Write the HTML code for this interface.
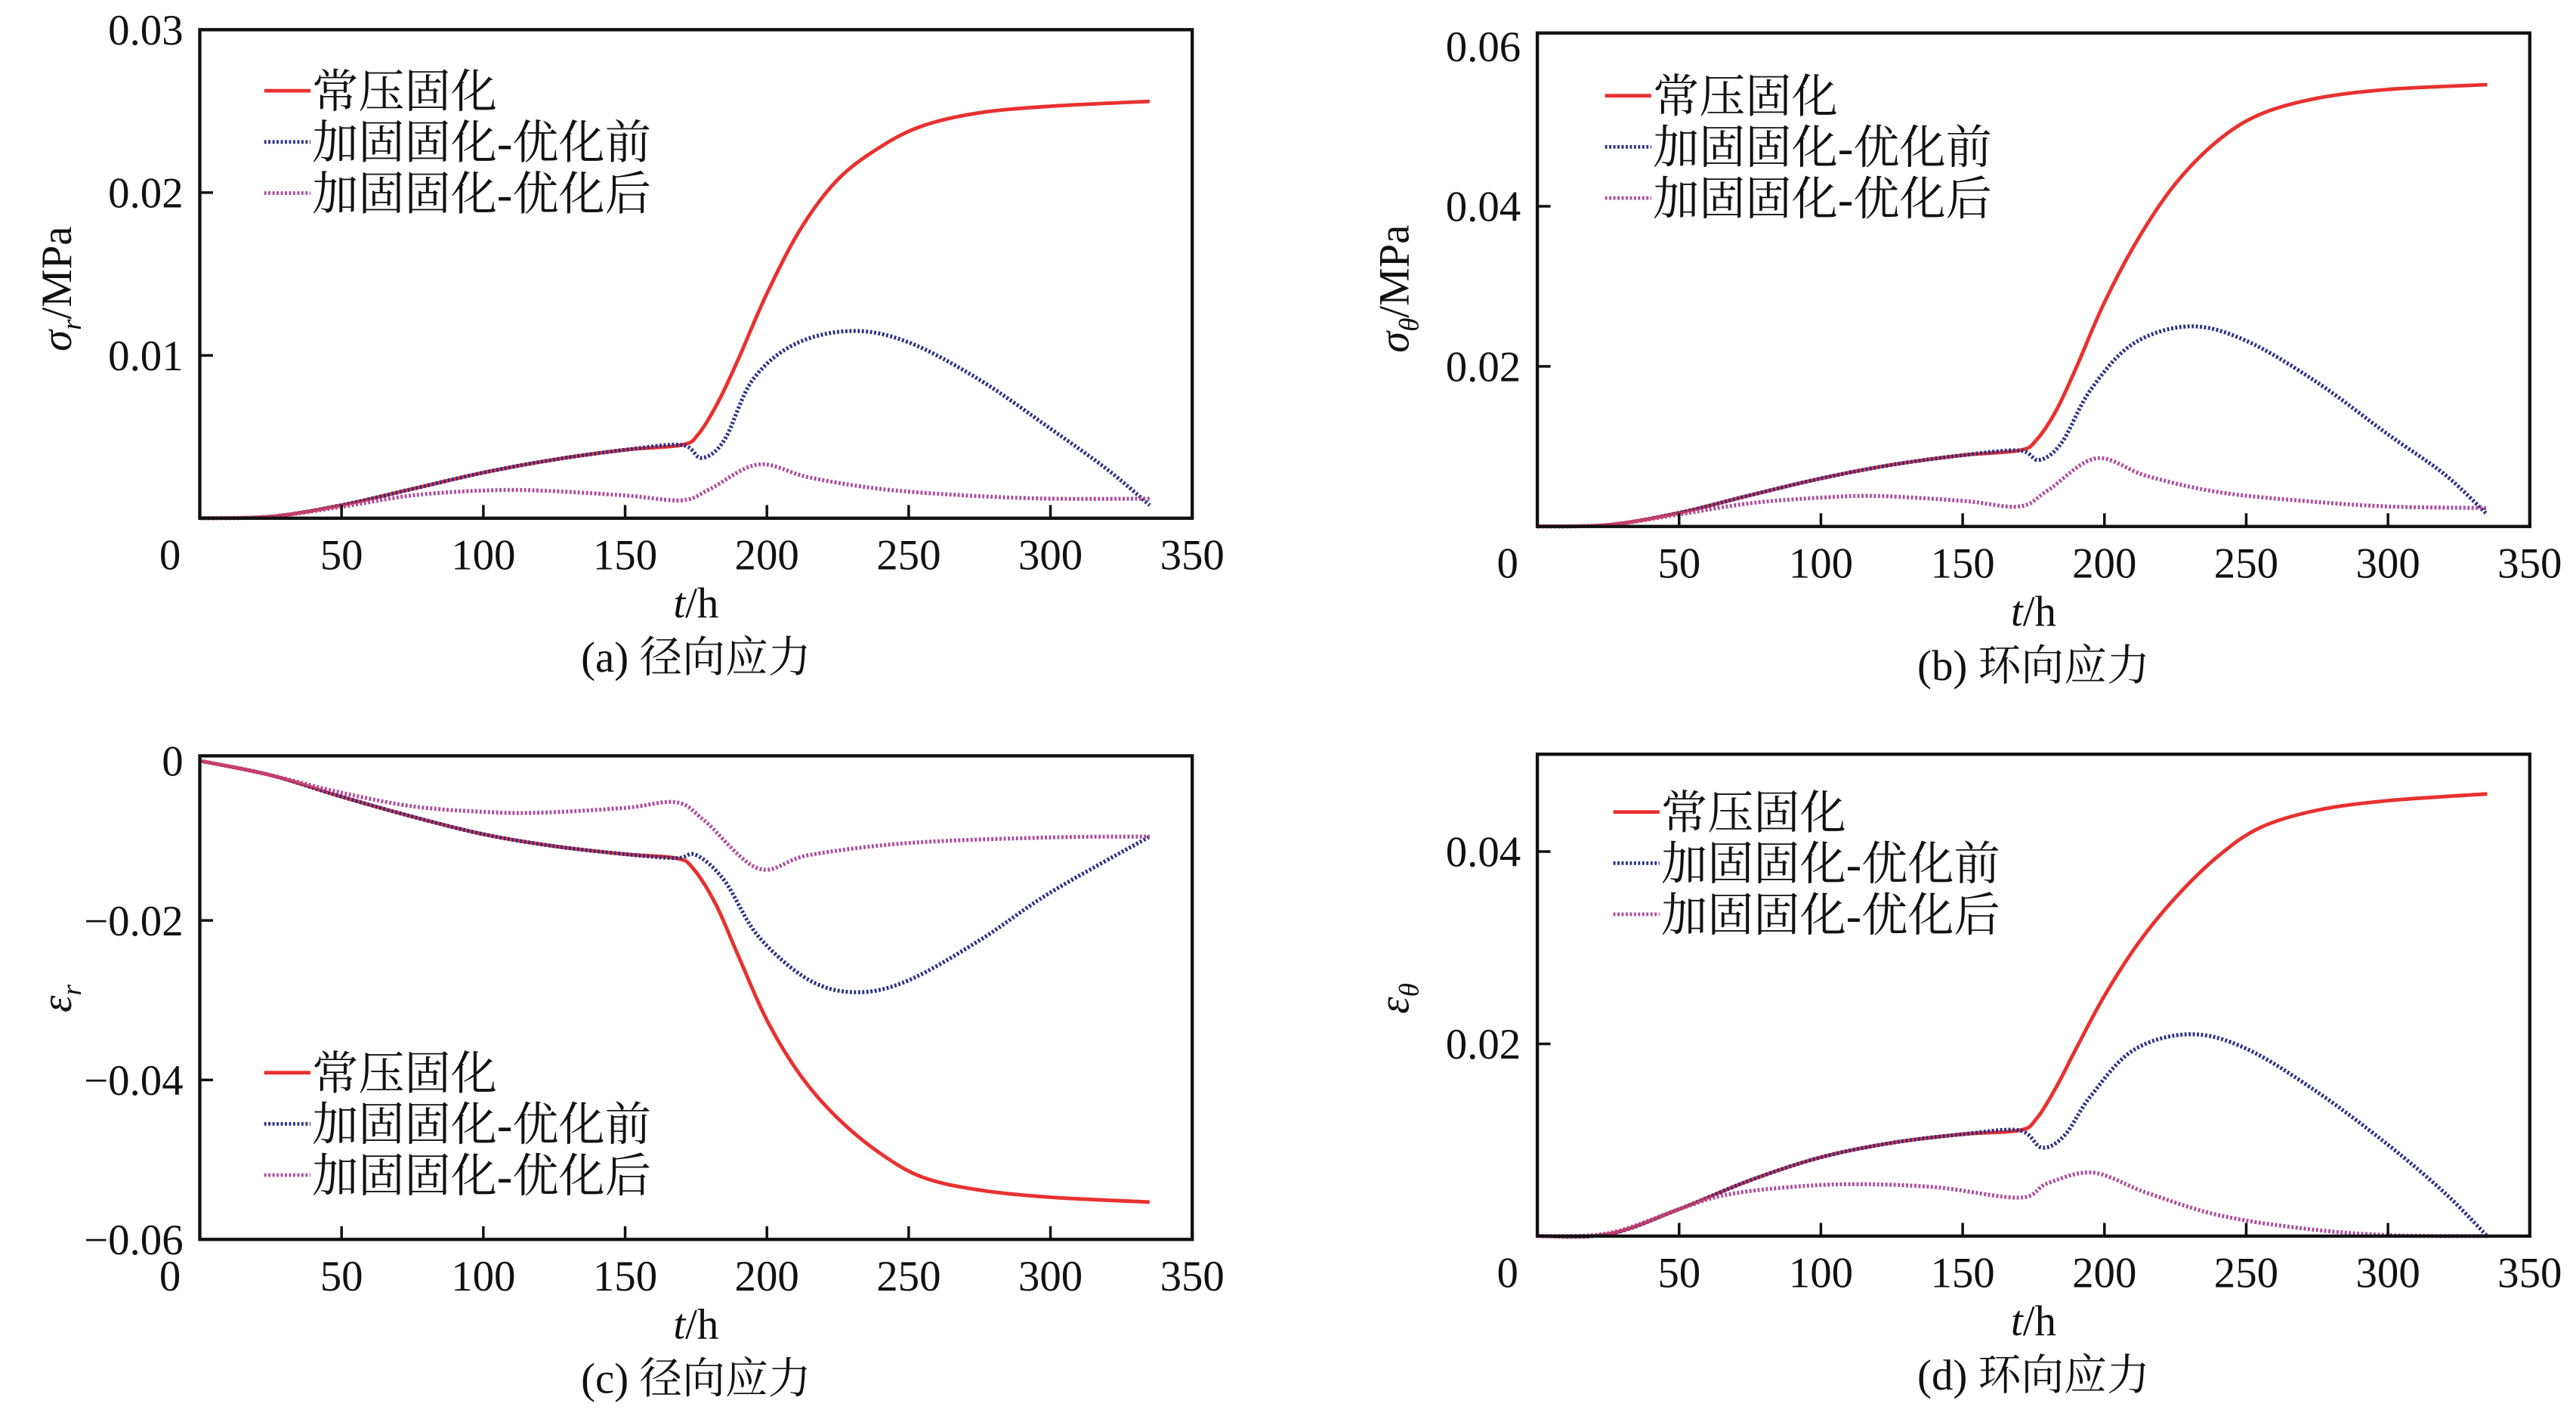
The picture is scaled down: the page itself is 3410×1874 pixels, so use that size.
<!DOCTYPE html>
<html><head><meta charset="utf-8"><style>
html,body{margin:0;padding:0;background:#fff;}
svg{display:block;}
text{font-family:"Liberation Serif","Noto Serif CJK SC",serif;fill:#111;}
</style></head><body>
<svg id="s" width="3410" height="1874" viewBox="0 0 1560 858" preserveAspectRatio="none" xmlns="http://www.w3.org/2000/svg"></svg>
<script>
const S=document.getElementById('s');const NS='http://www.w3.org/2000/svg';
function el(n,a,t){const e=document.createElementNS(NS,n);for(const k in a)e.setAttribute(k,a[k]);if(t!==undefined)e.textContent=t;S.appendChild(e);return e;}
function path(pts){let d='M'+pts[0][0]+','+pts[0][1];for(let i=0;i<pts.length-1;i++){const p0=pts[Math.max(0,i-1)],p1=pts[i],p2=pts[i+1],p3=pts[Math.min(pts.length-1,i+2)];
const c1=[p1[0]+(p2[0]-p0[0])/6,p1[1]+(p2[1]-p0[1])/6],c2=[p2[0]-(p3[0]-p1[0])/6,p2[1]-(p3[1]-p1[1])/6];
d+=' C'+c1[0].toFixed(2)+','+c1[1].toFixed(2)+' '+c2[0].toFixed(2)+','+c2[1].toFixed(2)+' '+p2[0].toFixed(2)+','+p2[1].toFixed(2);}return d;}
const RED='#e8312f',BLUE='#2b2f8a',MAG='#b04a9a';
function panel(o){
 const X=t=>o.x0+t*(o.x1-o.x0)/350, Y=v=>o.yb+(v-o.v0)*o.k;
 [[o.red,RED,'none',2.2],[o.blue,BLUE,'1.3,1.2',2.4],[o.mag,MAG,'1.3,1.2',2.4]].forEach(([pts,c,da,w])=>{
  el('path',{d:path(pts.map(p=>[X(p[0]),Y(p[1])])),fill:'none',stroke:c,'stroke-width':w,'stroke-dasharray':da});});
 el('rect',{x:o.x0,y:o.yt,width:o.x1-o.x0,height:o.ybot-o.yt,fill:'none',stroke:'#111','stroke-width':2});
 for(let t=50;t<=300;t+=50){el('line',{x1:X(t),x2:X(t),y1:o.ybot,y2:o.ybot-8,stroke:'#111','stroke-width':1.6});}
 o.xl.forEach((s,i)=>el('text',{x:(i==0?X(0)-18:X(i*50)),y:o.ybot+31,'font-size':26,'text-anchor':'middle'},s));
 o.yt2.forEach(([v,s,tk])=>{const y=Y(v);if(tk)el('line',{x1:o.x0,x2:o.x0+8,y1:y,y2:y,stroke:'#111','stroke-width':1.6});
  el('text',{x:o.x0-10,y:y+9,'font-size':26,'text-anchor':'end'},s);});
 const th=el('text',{x:(o.x0+o.x1)/2,y:o.ybot+60,'font-size':26,'text-anchor':'middle'});
 th.innerHTML='<tspan font-style="italic">t</tspan>/h';
 el('text',{x:(o.x0+o.x1)/2,y:o.ybot+93,'font-size':26,'text-anchor':'middle'},o.cap);
 const yl=el('text',{x:0,y:0,'font-size':26,'text-anchor':'middle',transform:'translate('+(o.x0-78)+','+o.ylc+') rotate(-90)'});
 yl.innerHTML=o.yl;
 const L=o.leg;['常压固化','加固固化-优化前','加固固化-优化后'].forEach((s,i)=>{const y=L[1]+i*31;const c=[RED,BLUE,MAG][i];
  el('line',{x1:L[0],x2:L[0]+28,y1:y,y2:y,stroke:c,'stroke-width':2.2,'stroke-dasharray':i?'1.3,1.2':'none'});
  el('text',{x:L[0]+29,y:y+10,'font-size':28},s);});
}
const xl=['0','50','100','150','200','250','300','350'];
panel({x0:121,x1:722,yt:18,ybot:314,yb:314,v0:0,k:-296/0.03,xl,cap:'(a) 径向应力',ylc:175,
 yl:'<tspan font-style="italic">σ</tspan><tspan font-style="italic" font-size="17" dy="6">r</tspan><tspan dy="-6">/MPa</tspan>',
 leg:[160,55],yt2:[[0.03,'0.03',0],[0.02,'0.02',1],[0.01,'0.01',1]],
 red:[[0,0],[25,0.0001],[50,0.0008],[75,0.0018],[100,0.0028],[125,0.0036],[150,0.0042],[170,0.0045],[176,0.0052],[183,0.0072],[190,0.0098],[200,0.0138],[212,0.0178],[225,0.0208],[240,0.0228],[255,0.0241],[275,0.0249],[300,0.0253],[335,0.0256]],
 blue:[[0,0],[25,0.0001],[50,0.0008],[75,0.0018],[100,0.0028],[125,0.0036],[150,0.0042],[170,0.0045],[177,0.0037],[185,0.0048],[195,0.0085],[210,0.0107],[230,0.0115],[250,0.0108],[275,0.0085],[300,0.0055],[320,0.003],[335,0.0008]],
 mag:[[0,0],[25,0.0001],[50,0.0007],[75,0.0014],[100,0.0017],[120,0.0017],[150,0.0014],[170,0.0011],[180,0.0018],[197,0.0033],[215,0.0025],[240,0.0018],[270,0.0014],[300,0.0012],[335,0.0012]]});
panel({x0:931,x1:1532,yt:20,ybot:319,yb:319,v0:0,k:-97/0.02,xl,cap:'(b) 环向应力',ylc:175,
 yl:'<tspan font-style="italic">σ</tspan><tspan font-style="italic" font-size="17" dy="6">θ</tspan><tspan dy="-6">/MPa</tspan>',
 leg:[972,58],yt2:[[0.06,'0.06',0],[0.04,'0.04',1],[0.02,'0.02',1]],
 red:[[0,0],[25,0.0002],[50,0.0017],[75,0.0039],[100,0.006],[125,0.0077],[150,0.0089],[170,0.0095],[176,0.0108],[183,0.0145],[190,0.0198],[200,0.028],[212,0.036],[225,0.0428],[240,0.0482],[255,0.0515],[275,0.0535],[300,0.0546],[335,0.0552]],
 blue:[[0,0],[25,0.0002],[50,0.0017],[75,0.0039],[100,0.006],[125,0.0077],[150,0.0089],[170,0.0095],[177,0.0083],[185,0.0105],[195,0.017],[210,0.0228],[230,0.025],[250,0.0232],[275,0.018],[300,0.0115],[320,0.0065],[335,0.0015]],
 mag:[[0,0],[25,0.0002],[50,0.0015],[75,0.0029],[100,0.0036],[120,0.0038],[150,0.0032],[170,0.0025],[180,0.0045],[197,0.0085],[215,0.0063],[240,0.0043],[270,0.0032],[300,0.0025],[335,0.0023]]});
panel({x0:121,x1:722,yt:458,ybot:751,yb:461,v0:0,k:-96.7/0.02,xl,cap:'(c) 径向应力',ylc:605,
 yl:'<tspan font-style="italic">ε</tspan><tspan font-style="italic" font-size="17" dy="6">r</tspan>',
 leg:[160,650],yt2:[[0,'0',0],[-0.02,'−0.02',1],[-0.04,'−0.04',1],[-0.06,'−0.06',0]],
 red:[[0,0],[25,-0.0018],[50,-0.0045],[75,-0.007],[100,-0.0092],[125,-0.0107],[150,-0.0117],[168,-0.0122],[174,-0.0135],[182,-0.018],[190,-0.0245],[200,-0.0325],[212,-0.0395],[225,-0.0448],[240,-0.0492],[255,-0.0522],[275,-0.0538],[300,-0.0547],[335,-0.0553]],
 blue:[[0,0],[25,-0.0018],[50,-0.0045],[75,-0.007],[100,-0.0092],[125,-0.0107],[150,-0.0117],[168,-0.0122],[175,-0.0118],[185,-0.015],[197,-0.022],[215,-0.0275],[232,-0.029],[250,-0.0275],[275,-0.0225],[300,-0.0165],[335,-0.0095]],
 mag:[[0,0],[25,-0.0018],[50,-0.004],[75,-0.0057],[100,-0.0064],[120,-0.0065],[150,-0.0059],[168,-0.0052],[178,-0.0075],[197,-0.0135],[215,-0.0118],[250,-0.0103],[300,-0.0096],[335,-0.0095]]});
panel({x0:931,x1:1532,yt:457,ybot:749,yb:749,v0:0,k:-116.5/0.02,xl,cap:'(d) 环向应力',ylc:605,
 yl:'<tspan font-style="italic">ε</tspan><tspan font-style="italic" font-size="17" dy="6">θ</tspan>',
 leg:[977,492],yt2:[[0.04,'0.04',1],[0.02,'0.02',1]],
 red:[[0,0],[25,0.0002],[50,0.0028],[75,0.0058],[100,0.0082],[125,0.0097],[150,0.0106],[170,0.011],[176,0.0122],[183,0.0155],[190,0.0195],[200,0.025],[212,0.0305],[225,0.0352],[240,0.0395],[255,0.0425],[275,0.0443],[300,0.0453],[335,0.046]],
 blue:[[0,0],[25,0.0002],[50,0.0028],[75,0.0058],[100,0.0082],[125,0.0097],[150,0.0106],[170,0.011],[178,0.0092],[186,0.0105],[195,0.0145],[210,0.0193],[230,0.021],[250,0.0195],[275,0.015],[300,0.0095],[320,0.0045],[335,0]],
 mag:[[0,0],[25,0.0003],[50,0.0028],[65,0.0042],[85,0.005],[110,0.0054],[140,0.0051],[170,0.004],[180,0.0055],[196,0.0066],[215,0.0045],[240,0.0022],[270,0.0008],[300,0.0001],[335,0]]});
</script>
</body></html>
